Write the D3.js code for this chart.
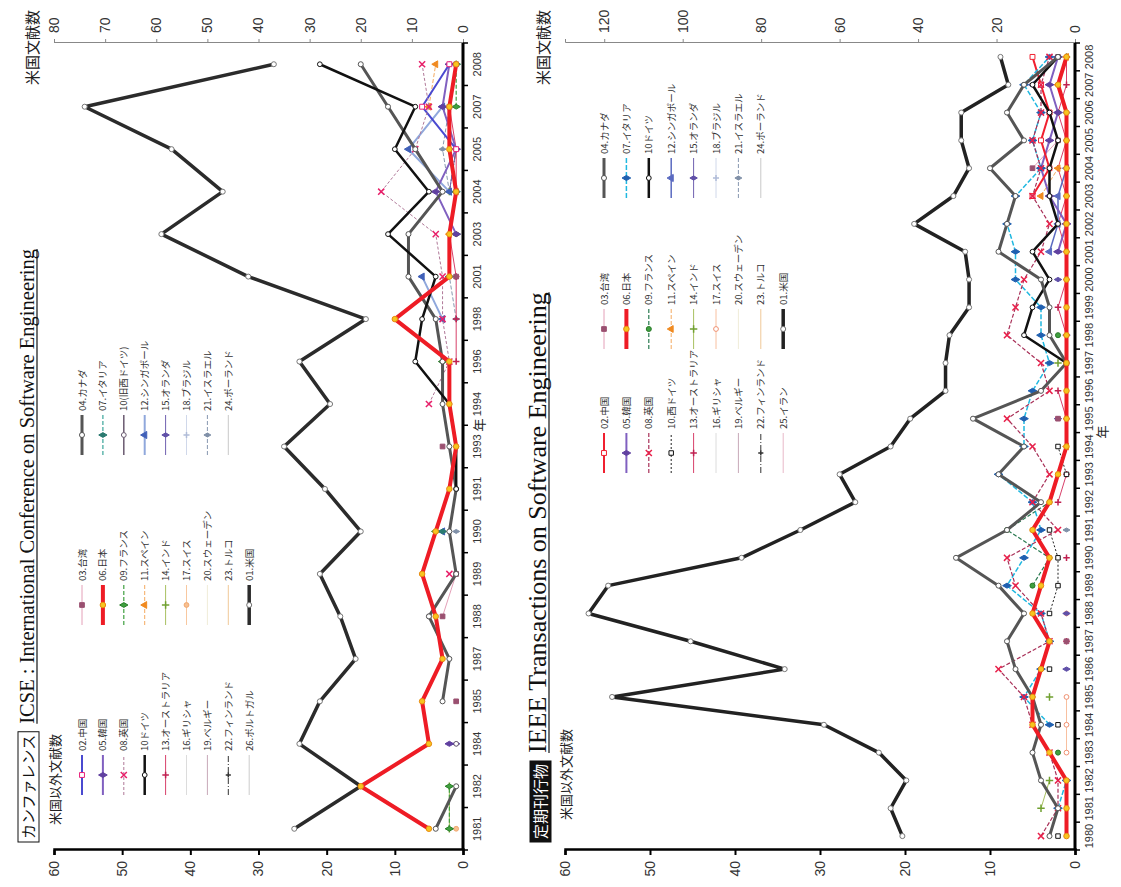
<!DOCTYPE html>
<html>
<head>
<meta charset="utf-8">
<script src="https://cdn.jsdelivr.net/npm/d3@7/dist/d3.min.js"></script>
<style>
  body { margin: 0; background: #fff; }
  svg text { font-family: "Liberation Sans", Arial, sans-serif; }
  svg text.jp { font-family: "Noto Sans CJK JP", sans-serif; }
  svg text.serif { font-family: "Liberation Serif", "DejaVu Serif", serif; }
</style>
</head>
<body>
<script>
const _ = null;

// ---------- ICSE : International Conference on Software Engineering ----------
const icseYears = [1981, 1982, 1984, 1985, 1987, 1988, 1989, 1990, 1991, 1993, 1994, 1996, 1998, 2001, 2003, 2004, 2005, 2007, 2008];
const icseUS  = [33, 20, 32, 28, 21, 24, 28, 20, 27, 35, 26, 32, 19, 42, 59, 47, 57, 74, 37];
const icseCN  = [_, _, _, _, _, _, _, _, _, _, _, _, _, _, _, _, 1, 6, 2];
const icseTW  = [_, _, _, 1, _, 3, 1, _, _, 3, _, _, _, 1, _, 1, _, 2, 1];
const icseCA  = [4, 1, _, 3, 2, 5, 1, 2, 1, 2, 3, 3, 4, 8, 8, 3, 7, 11, 15];
const icseKR  = [_, _, 2, _, _, _, _, _, _, _, _, _, _, _, 1, 4, 1, 3, 2];
const icseJP  = [5, 15, 5, 6, 3, 4, 6, 4, 2, 1, 2, 2, 10, 2, 2, 1, 2, 2, 1];
const icseIT  = [_, _, _, _, _, _, _, 3, _, _, _, _, _, 2, _, 1, _, _, 1];
const icseUK  = [_, _, _, _, _, _, 2, _, _, _, 5, 2, 3, 3, 4, 12, 7, 5, 6];
const icseFR  = [2, 2, _, _, _, _, _, 4, _, _, _, 3, _, _, 1, _, _, 1, 1];
const icseDE  = [_, _, _, _, _, _, _, _, 1, 1, 2, 7, 6, 4, 11, 5, 10, 7, 21];
const icseWDE = [_, _, 1, _, _, 5, 1, _, _, _, _, _, _, _, _, _, _, _, _];
const icseES  = [_, _, _, _, _, _, _, _, _, _, _, _, _, _, 2, 1, _, 5, 4];
const icseSG  = [_, _, _, _, _, _, _, 3, _, _, _, _, 3, 6, _, 2, 8, 3, _];
const icseAU  = [_, _, _, _, _, _, _, _, _, _, _, 1, 1, 1, 2, 1, 1, 2, 1];
const icseIN  = [2, 2, _, _, _, _, _, _, _, _, _, _, _, _, _, 2, _, _, 1];
const icseNL  = [_, _, 1, _, _, _, _, _, _, _, _, _, _, _, _, 2, 1, _, _];
const icseGR  = [_, _, _, _, _, _, _, _, _, _, _, _, _, _, _, 1, _, _, _];
const icseCH  = [1, _, _, _, _, _, _, _, _, _, _, _, _, _, 1, _, _, _, _];
const icseBR  = [_, _, _, _, _, _, _, _, _, _, _, _, _, _, _, _, _, _, 1];
const icseBE  = [_, _, _, _, _, _, _, _, _, _, _, _, _, _, _, _, 1, _, _];
const icseSE  = [_, _, _, _, _, _, _, _, _, _, _, _, _, 1, _, _, _, _, _];
const icseIL  = [_, _, _, _, _, _, _, 1, _, _, _, _, 1, 2, _, 2, 3, 2, _];
const icseFI  = [_, _, _, _, _, _, _, _, _, _, _, _, _, 1, _, 2, 1, _, _];
const icseTR  = [_, _, _, _, _, _, _, _, _, _, _, _, _, _, _, _, _, _, 1];
const icsePL  = [_, _, _, _, _, _, _, _, _, _, _, _, _, _, _, _, _, 1, _];
const icsePT  = [_, _, _, _, _, _, _, _, _, _, _, _, _, _, _, 1, _, _, _];

// ---------- IEEE Transactions on Software Engineering ----------
const tseYears = [1980, 1981, 1982, 1983, 1984, 1985, 1986, 1987, 1988, 1989, 1990, 1991, 1992, 1993, 1994,
                  1995, 1996, 1997, 1998, 1999, 2000, 2001, 2002, 2003, 2004, 2005, 2006, 2007, 2008];
const tseUS  = [44, 47, 43, 50, 64, 118, 74, 98, 124, 119, 85, 70, 56, 60, 47, 42, 33, 33, 32, 27, 27, 28, 41, 31, 27, 29, 29, 17, 19];
const tseCN  = [_, _, _, _, _, _, _, _, _, _, _, _, _, _, _, _, _, _, _, _, _, _, _, 5, 3, 4, 3, 4, 5];
const tseTW  = [_, _, _, _, _, _, _, 1, _, _, _, _, _, _, _, 2, _, 1, _, _, _, _, _, _, 5, 2, 3, _, 2];
const tseCA  = [3, 2, 4, 5, 4, 5, 7, 8, 6, 9, 14, 8, 4, 9, 6, 12, 4, 1, 3, 3, 4, 9, 8, 7, 10, 6, 8, 6, 2];
const tseKR  = [_, _, _, _, _, _, _, _, _, _, _, _, _, _, _, _, _, _, _, _, _, 2, 1, 3, 4, 3, 2, 3, 2];
const tseJP  = [1, 1, 1, 3, 5, 5, 4, 3, 5, 4, 3, 5, 3, 2, 1, 1, 1, 1, 1, 1, 1, 1, 1, 1, 1, 1, 1, 2, 1];
const tseIT  = [_, 2, 1, _, 3, 6, 4, 3, 4, 8, 6, 4, 5, 9, 6, 6, 5, 3, 4, 4, 7, 7, 8, 7, 4, 5, 4, 6, 3];
const tseUK  = [4, 2, 2, 3, 5, 6, 9, 3, 4, 7, 8, 2, 5, 3, 5, 8, 3, 4, 8, 7, 6, 4, 3, 5, 4, 5, 4, 4, 3];
const tseFR  = [_, _, _, 2, _, _, _, 3, _, 5, 3, 8, 3, _, _, _, _, _, 2, _, _, _, _, _, _, _, 2, _, _];
const tseWDE = [2, _, _, _, 2, _, 3, _, 3, 2, 2, 3, _, 1, 2, _, _, _, _, _, _, _, _, _, _, _, _, _, _];
const tseDE  = [_, _, _, _, _, _, _, _, _, _, _, _, _, _, _, _, _, 1, 6, 5, 3, 5, 2, 3, 3, 2, 3, 5, 2];
const tseES  = [_, _, _, _, _, _, _, _, _, _, _, _, _, _, 1, _, _, _, _, _, _, _, _, 4, 2, _, _, 2, 1];
const tseSG  = [_, _, _, _, _, _, _, _, _, _, _, _, _, _, _, _, _, _, _, _, _, 3, 2, 2, 1, _, _, 5, _];
const tseAU  = [_, _, _, _, _, _, _, 1, _, _, 1, _, 2, 1, _, 1, 2, _, 1, 2, 1, 1, 2, 1, 2, 1, 2, 1, 1];
const tseIN  = [_, 4, 3, _, _, 3, _, _, _, _, _, _, _, _, _, _, _, 2, _, _, _, _, _, _, _, _, _, _, 1];
const tseNL  = [_, _, _, _, _, _, 1, _, 1, _, _, _, _, _, _, 2, _, _, 1, _, 2, _, _, _, _, _, 1, _, _];
const tseGR  = [_, _, _, _, _, _, _, _, _, _, _, _, _, _, _, _, _, _, _, _, _, _, _, _, 1, _, _, _, _];
const tseCH  = [_, _, _, 1, 1, 1, _, _, 1, _, _, _, _, _, _, _, _, _, _, _, _, _, _, _, _, 1, _, _, 1];
const tseBR  = [_, _, _, _, _, _, _, _, _, _, _, _, _, _, _, _, _, _, _, _, _, _, 1, _, _, _, _, _, _];
const tseBE  = [_, _, _, _, _, _, _, _, _, _, _, _, _, _, _, _, 1, _, _, _, _, _, _, _, _, 1, _, _, _];
const tseSE  = [_, _, _, _, _, _, _, _, _, _, _, _, _, _, _, _, _, _, _, 1, _, _, _, _, _, _, _, _, _];
const tseIL  = [_, _, _, _, _, _, _, _, _, _, _, 1, _, _, _, _, _, _, _, _, _, 2, _, _, 1, _, _, _, _];
const tseFI  = [_, _, _, _, _, _, _, _, _, _, _, _, _, _, _, _, _, _, 1, _, _, _, _, _, _, _, _, _, _];
const tseTR  = [_, _, _, _, _, _, _, _, _, _, _, _, _, _, _, _, _, _, _, _, _, _, _, _, _, _, _, 1, _];
const tsePL  = [_, _, _, _, _, _, _, _, _, _, _, _, _, _, _, _, _, _, _, _, _, _, _, _, _, _, 1, _, _];
const tseIR  = [_, _, _, _, _, _, _, _, _, _, _, _, _, _, _, _, _, _, _, _, _, _, _, _, _, _, _, _, 1];

// ---------- line / marker styles ----------
const baseStyle = {
  us:  {stroke: '#2b2b2b', width: 3.5, marker: 'circle', fill: '#fff', mstroke: '#777', size: 20},
  cn:  {stroke: '#4a4ad0', width: 2, marker: 'square', fill: '#fff', mstroke: '#e8207a', size: 24},
  tw:  {stroke: '#e4a0b8', width: 1, marker: 'square', fill: '#9a5070', mstroke: '#9a5070', size: 22},
  ca:  {stroke: '#555', width: 3, marker: 'circle', fill: '#fff', mstroke: '#555', size: 20},
  kr:  {stroke: '#8060c0', width: 2, marker: 'diamond', fill: '#6040a0', mstroke: '#6040a0', size: 22},
  jp:  {stroke: '#ee1c25', width: 4, marker: 'circle', fill: '#f7c520', mstroke: '#e88a10', size: 24},
  it:  {stroke: '#3aa59a', width: 1.2, dash: '4,2', marker: 'diamond', fill: '#2a7a70', mstroke: '#2a7a70', size: 20},
  uk:  {stroke: '#b07898', width: 1, dash: '3,2', marker: 'x', mstroke: '#e8206a', size: 26},
  fr:  {stroke: '#40a040', width: 1.2, dash: '4,2', marker: 'diamond', fill: '#40a040', mstroke: '#2a802a', size: 20},
  de:  {stroke: '#111', width: 2.5, marker: 'circle', fill: '#fff', mstroke: '#111', size: 18},
  wde: {stroke: '#6a5a70', width: 1.5, marker: 'circle', fill: '#fff', mstroke: '#6a5a70', size: 18},
  es:  {stroke: '#f4aa60', width: 1, dash: '4,2', marker: 'triangle', fill: '#f08a20', mstroke: '#f08a20', size: 20},
  sg:  {stroke: '#90a8dc', width: 2, marker: 'triangle', fill: '#4060b8', mstroke: '#4060b8', size: 22},
  au:  {stroke: '#d8406a', width: 1, marker: 'plus', mstroke: '#c02050', size: 16},
  in:  {stroke: '#a8c060', width: 1, marker: 'plus', mstroke: '#70a030', size: 20},
  nl:  {stroke: '#7060b0', width: 1, marker: 'diamond', fill: '#6050a8', mstroke: '#6050a8', size: 16},
  gr:  {stroke: '#dcdcdc', width: 1},
  ch:  {stroke: '#f8c8a0', width: 1, marker: 'circle', fill: '#f8c090', mstroke: '#f0a870', size: 18},
  br:  {stroke: '#d0d8ea', width: 1, marker: 'plus', mstroke: '#b0bcd8', size: 14},
  be:  {stroke: '#c8a8b8', width: 1},
  se:  {stroke: '#f0ecd8', width: 1},
  il:  {stroke: '#8898b0', width: 1, dash: '4,2', marker: 'diamond', fill: '#8090a8', mstroke: '#8090a8', size: 14},
  fi:  {stroke: '#333', width: 1, dash: '6,2,1,2', marker: 'plus', mstroke: '#333', size: 10},
  tr:  {stroke: '#f0c898', width: 1},
  pl:  {stroke: '#c8c8c8', width: 1},
  pt:  {stroke: '#cccccc', width: 1},
  ir:  {stroke: '#e8b8c8', width: 1}
};
const tseStyle = Object.assign({}, baseStyle, {
  us:  {stroke: '#222', width: 3.5, marker: 'circle', fill: '#fff', mstroke: '#777', size: 20},
  cn:  {stroke: '#f02030', width: 2, marker: 'square', fill: '#fff', mstroke: '#f02030', size: 24},
  it:  {stroke: '#20b8e0', width: 1.5, dash: '5,2', marker: 'diamond', fill: '#2060b0', mstroke: '#2060b0', size: 22},
  uk:  {stroke: '#a83058', width: 1.2, dash: '4,2', marker: 'x', mstroke: '#e8204a', size: 26},
  fr:  {stroke: '#2a7a50', width: 1.2, dash: '4,2', marker: 'circle', fill: '#40a040', mstroke: '#2a7a2a', size: 20},
  wde: {stroke: '#222', width: 1, dash: '2,2', marker: 'square', fill: '#fff', mstroke: '#111', size: 20},
  sg:  {stroke: '#5a6ac0', width: 1.5, marker: 'triangle', fill: '#5a6ac0', mstroke: '#5a6ac0', size: 22},
  ch:  {stroke: '#f8c0a0', width: 1, marker: 'circle', fill: '#fff', mstroke: '#f09070', size: 18}
});

const symbols = {circle: d3.symbolCircle, square: d3.symbolSquare, diamond: d3.symbolDiamond,
                 triangle: d3.symbolTriangle, x: d3.symbolTimes, plus: d3.symbolPlus};
const strokeOnly = {x: true, plus: true};

// ---------- page: drawn upright, then turned to landscape ----------
const W = 1121, H = 887;
const svg = d3.select('body').append('svg').attr('width', W).attr('height', H);
const page = svg.append('g').attr('transform', `translate(0,${H}) rotate(-90)`);

function marker(sel, st, x, y) {
  if (!st.marker) return;
  sel.append('path')
    .attr('d', d3.symbol().type(symbols[st.marker]).size(st.size)())
    .attr('transform', `translate(${x},${y})`)
    .attr('fill', strokeOnly[st.marker] ? 'none' : st.fill)
    .attr('stroke', st.mstroke)
    .attr('stroke-width', strokeOnly[st.marker] ? 1.5 : 1);
}

function drawChart(cfg) {
  const g = page.append('g');
  const x = d3.scaleBand().domain(cfg.years).range([cfg.x0, cfg.x1]);
  const bw = x.bandwidth();
  const yL = d3.scaleLinear().domain([0, cfg.leftMax]).range([cfg.yBot, cfg.yTop]);
  const yR = d3.scaleLinear().domain([0, cfg.rightMax]).range([cfg.yBot, cfg.yTop]);

  // right axis (US counts)
  const aR = g.append('g').attr('transform', `translate(${cfg.x1},0)`)
    .call(d3.axisRight(yR).tickValues(cfg.rightTicks).tickSize(4).tickPadding(6));
  aR.select('.domain').attr('stroke', '#888').attr('stroke-width', 1);
  aR.selectAll('.tick line').attr('stroke', '#888');
  aR.selectAll('text').attr('font-size', 14).attr('fill', '#333');

  // left axis (non-US counts)
  const aL = g.append('g').attr('transform', `translate(${cfg.x0},0)`)
    .call(d3.axisLeft(yL).tickValues(cfg.leftTicks).tickSize(5).tickPadding(6));
  aL.select('.domain').attr('stroke', '#000').attr('stroke-width', 2.5);
  aL.selectAll('.tick line').attr('stroke', '#000').attr('stroke-width', 2);
  aL.selectAll('text').attr('font-size', 14).attr('fill', '#333');

  // series
  const lines = g.append('g');
  cfg.series.forEach(s => {
    const st = cfg.style[s.code];
    const ys = s.axis === 'right' ? yR : yL;
    const line = d3.line().defined(v => v != null)
      .x((v, i) => x(cfg.years[i]) + bw / 2).y(v => ys(v));
    lines.append('path').attr('d', line(s.data))
      .attr('fill', 'none').attr('stroke', st.stroke).attr('stroke-width', st.width)
      .attr('stroke-dasharray', st.dash || null).attr('stroke-linejoin', 'round');
    s.data.forEach((v, i) => { if (v != null) marker(lines, st, x(cfg.years[i]) + bw / 2, ys(v)); });
  });

  // category axis (years)
  const aB = g.append('g');
  aB.append('line').attr('x1', cfg.x0).attr('x2', cfg.x1).attr('y1', cfg.yBot).attr('y2', cfg.yBot)
    .attr('stroke', '#000').attr('stroke-width', 3);
  aB.selectAll('.yt').data(cfg.years.concat([null])).enter().append('line')
    .attr('x1', (d, i) => cfg.x0 + i * bw).attr('x2', (d, i) => cfg.x0 + i * bw)
    .attr('y1', cfg.yBot).attr('y2', cfg.yBot + 5).attr('stroke', '#000').attr('stroke-width', 1.5);
  aB.selectAll('.yl').data(cfg.years).enter().append('text')
    .attr('x', d => x(d) + bw / 2).attr('y', cfg.yBot + 18)
    .attr('text-anchor', 'middle').attr('font-size', 11).attr('fill', '#333').text(d => d);
  g.append('text').attr('class', 'jp').attr('x', cfg.yearTitleX).attr('y', cfg.yBot + cfg.yearTitleDy)
    .attr('text-anchor', 'middle').attr('font-size', 13).attr('fill', '#222').text('年');

  // axis titles
  g.append('text').attr('class', 'jp').attr('x', cfg.x1 + 33).attr('y', cfg.yTop - 16)
    .attr('text-anchor', 'end').attr('font-size', 15).attr('fill', '#222').text('米国文献数');
  g.append('text').attr('class', 'jp').attr('x', cfg.leftTitleX).attr('y', cfg.yTop + 6)
    .attr('font-size', 13).attr('fill', '#222').text('米国以外文献数');

  // heading
  const hb = g.append('g');
  const tag = hb.append('text').attr('class', 'jp').attr('x', cfg.tagX + 3).attr('y', cfg.titleY)
    .attr('font-size', 15).attr('fill', cfg.tagInverse ? '#fff' : '#111').text(cfg.tag);
  const tw = tag.node().getComputedTextLength();
  hb.insert('rect', 'text').attr('x', cfg.tagX).attr('y', cfg.titleY - 16).attr('width', tw + 6).attr('height', 21)
    .attr('fill', cfg.tagInverse ? '#111' : '#fff').attr('stroke', '#111').attr('stroke-width', 1);
  const title = hb.append('text').attr('class', 'serif').attr('x', cfg.tagX + tw + 14).attr('y', cfg.titleY)
    .attr('font-size', cfg.titleSize).attr('fill', '#111').text(cfg.title);
  const ttl = title.node().getComputedTextLength();
  hb.append('line').attr('x1', cfg.tagX + tw + 14).attr('x2', cfg.tagX + tw + 14 + ttl)
    .attr('y1', cfg.titleY + 3).attr('y2', cfg.titleY + 3).attr('stroke', '#111').attr('stroke-width', 1.2);

  // legend
  const lg = g.append('g');
  cfg.legendCols.forEach((col, ci) => {
    const lx = cfg.legendX[ci];
    col.forEach((item, ri) => {
      const st = cfg.style[item[1]];
      const ly = cfg.legendY + ri * cfg.legendStep;
      lg.append('line').attr('x1', lx).attr('x2', lx + cfg.sampleLen).attr('y1', ly).attr('y2', ly)
        .attr('stroke', st.stroke).attr('stroke-width', st.width).attr('stroke-dasharray', st.dash || null);
      marker(lg, st, lx + cfg.sampleLen / 2, ly);
      lg.append('text').attr('class', 'jp').attr('x', lx + cfg.sampleLen + 4).attr('y', ly + 3.5)
        .attr('font-size', 9.5).attr('fill', '#333').text(item[0]);
    });
  });
}

// ICSE chart (upper part of the page)
drawChart({
  years: icseYears, style: baseStyle,
  x0: 37, x1: 844, yTop: 54, yBot: 463,
  leftMax: 60, leftTicks: [0, 10, 20, 30, 40, 50, 60],
  rightMax: 80, rightTicks: [0, 10, 20, 30, 40, 50, 60, 70, 80],
  yearTitleX: 462, yearTitleDy: 21, leftTitleX: 62,
  tag: 'カンファレンス', tagInverse: false, tagX: 45, titleY: 34, titleSize: 20.5,
  title: 'ICSE : International Conference on Software Engineering',
  legendX: [92, 262, 432], legendY: 82, legendStep: 20.9, sampleLen: 40,
  legendCols: [
    [['02.中国', 'cn'], ['05.韓国', 'kr'], ['08.英国', 'uk'], ['10ドイツ', 'de'], ['13.オーストラリア', 'au'],
     ['16.ギリシャ', 'gr'], ['19.ベルギー', 'be'], ['22.フィンランド', 'fi'], ['26.ポルトガル', 'pt']],
    [['03.台湾', 'tw'], ['06.日本', 'jp'], ['09.フランス', 'fr'], ['11.スペイン', 'es'], ['14.インド', 'in'],
     ['17.スイス', 'ch'], ['20.スウェーデン', 'se'], ['23.トルコ', 'tr'], ['01.米国', 'us']],
    [['04.カナダ', 'ca'], ['07.イタリア', 'it'], ['10(旧西ドイツ)', 'wde'], ['12.シンガポール', 'sg'],
     ['15.オランダ', 'nl'], ['18.ブラジル', 'br'], ['21.イスラエル', 'il'], ['24.ポーランド', 'pl']]
  ],
  series: [
    {code: 'pt', data: icsePT}, {code: 'pl', data: icsePL}, {code: 'tr', data: icseTR}, {code: 'se', data: icseSE},
    {code: 'be', data: icseBE}, {code: 'gr', data: icseGR}, {code: 'br', data: icseBR}, {code: 'fi', data: icseFI},
    {code: 'il', data: icseIL}, {code: 'ch', data: icseCH}, {code: 'nl', data: icseNL}, {code: 'in', data: icseIN},
    {code: 'au', data: icseAU}, {code: 'sg', data: icseSG}, {code: 'es', data: icseES}, {code: 'wde', data: icseWDE},
    {code: 'fr', data: icseFR}, {code: 'it', data: icseIT}, {code: 'kr', data: icseKR}, {code: 'tw', data: icseTW},
    {code: 'cn', data: icseCN}, {code: 'uk', data: icseUK}, {code: 'ca', data: icseCA}, {code: 'de', data: icseDE},
    {code: 'us', data: icseUS, axis: 'right'}, {code: 'jp', data: icseJP}
  ]
});

// IEEE TSE chart (lower part of the page)
drawChart({
  years: tseYears, style: tseStyle,
  x0: 37, x1: 844, yTop: 565, yBot: 1075,
  leftMax: 60, leftTicks: [0, 10, 20, 30, 40, 50, 60],
  rightMax: 130, rightTicks: [0, 20, 40, 60, 80, 100, 120],
  yearTitleX: 455, yearTitleDy: 32, leftTitleX: 67,
  tag: '定期刊行物', tagInverse: true, tagX: 45, titleY: 546, titleSize: 26,
  title: 'IEEE Transactions on Software Engineering',
  legendX: [414, 538, 689], legendY: 604, legendStep: 22.4, sampleLen: 40,
  legendCols: [
    [['02.中国', 'cn'], ['05.韓国', 'kr'], ['08.英国', 'uk'], ['10.西ドイツ', 'wde'], ['13.オーストラリア', 'au'],
     ['16.ギリシャ', 'gr'], ['19.ベルギー', 'be'], ['22.フィンランド', 'fi'], ['25.イラン', 'ir']],
    [['03.台湾', 'tw'], ['06.日本', 'jp'], ['09.フランス', 'fr'], ['11.スペイン', 'es'], ['14.インド', 'in'],
     ['17.スイス', 'ch'], ['20.スウェーデン', 'se'], ['23.トルコ', 'tr'], ['01.米国', 'us']],
    [['04.カナダ', 'ca'], ['07.イタリア', 'it'], ['10ドイツ', 'de'], ['12.シンガポール', 'sg'],
     ['15.オランダ', 'nl'], ['18.ブラジル', 'br'], ['21.イスラエル', 'il'], ['24.ポーランド', 'pl']]
  ],
  series: [
    {code: 'ir', data: tseIR}, {code: 'pl', data: tsePL}, {code: 'tr', data: tseTR}, {code: 'se', data: tseSE},
    {code: 'be', data: tseBE}, {code: 'gr', data: tseGR}, {code: 'br', data: tseBR}, {code: 'fi', data: tseFI},
    {code: 'il', data: tseIL}, {code: 'ch', data: tseCH}, {code: 'nl', data: tseNL}, {code: 'in', data: tseIN},
    {code: 'au', data: tseAU}, {code: 'sg', data: tseSG}, {code: 'es', data: tseES}, {code: 'wde', data: tseWDE},
    {code: 'fr', data: tseFR}, {code: 'tw', data: tseTW}, {code: 'kr', data: tseKR}, {code: 'cn', data: tseCN},
    {code: 'it', data: tseIT}, {code: 'uk', data: tseUK}, {code: 'de', data: tseDE}, {code: 'ca', data: tseCA},
    {code: 'jp', data: tseJP}, {code: 'us', data: tseUS, axis: 'right'}
  ]
});
</script>
</body>
</html>
